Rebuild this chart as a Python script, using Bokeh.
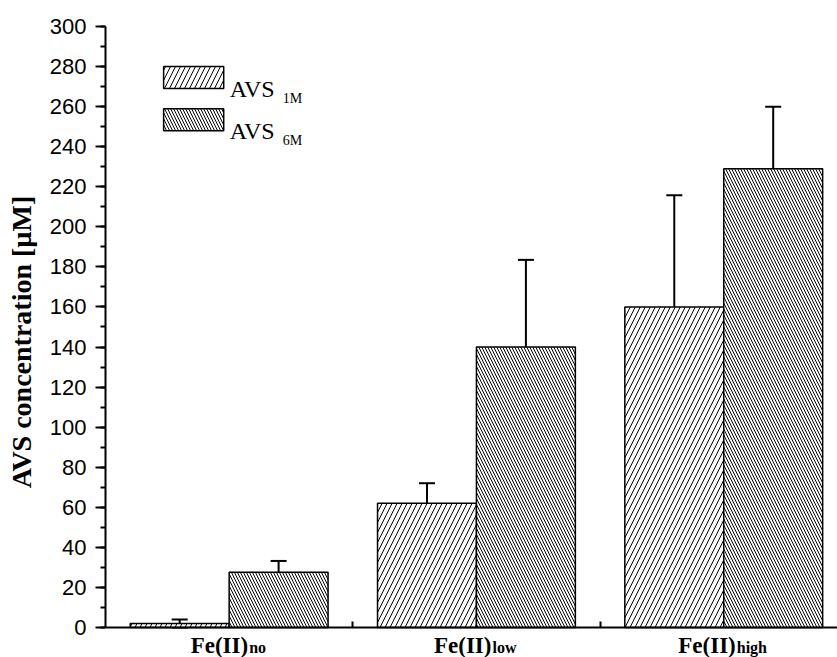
from bokeh.plotting import figure
from bokeh.models import (ColumnDataSource, FixedTicker, Whisker, TeeHead,
                          BoxAnnotation, Label, Range1d)
from bokeh.embed import file_html
from bokeh.resources import INLINE

# ---- data ----
group_main = ["Fe(II)", "Fe(II)", "Fe(II)"]
group_subs = ["no", "low", "high"]
series_main = ["AVS", "AVS"]
series_subs = ["1M", "6M"]
avs_1m = [2.0, 62.0, 160.0]
avs_1m_err = [2.0, 10.0, 55.7]
avs_6m = [27.5, 140.0, 229.0]
avs_6m_err = [5.7, 43.5, 31.0]
y_ticks = list(range(0, 301, 20))
y_minor = list(range(0, 301, 10))

# ---- layout helpers ----
idx = [i + 1 for i in range(len(group_main))]
bar_w = 0.4
x1 = [i - bar_w / 2 for i in idx]
x2 = [i + bar_w / 2 for i in idx]
sub_boundary = [19, 15, 12]  # px offset where main text ends / subscript starts

p = figure(width=837, height=657, output_backend="svg", toolbar_location=None,
           x_range=Range1d(0.5, 3.46), y_range=Range1d(-15, 300),
           min_border_left=105, min_border_right=0, min_border_top=26,
           min_border_bottom=0)
p.outline_line_color = None
p.grid.visible = False
p.background_fill_color = "white"
p.border_fill_color = "white"

# y axis
ya = p.yaxis[0]
ya.ticker = FixedTicker(ticks=y_ticks, minor_ticks=y_minor)
ya.bounds = (0, 300)
ya.major_tick_out = 10
ya.major_tick_in = 0
ya.minor_tick_out = 5
ya.minor_tick_in = 0
ya.axis_line_width = 2
ya.major_tick_line_width = 2
ya.minor_tick_line_width = 2
ya.axis_line_color = "black"
ya.major_tick_line_color = "black"
ya.minor_tick_line_color = "black"
ya.major_label_text_font = "Liberation Sans"
ya.major_label_text_font_size = "22px"
ya.major_label_text_color = "black"
ya.major_label_standoff = 9
ya.axis_label = "AVS concentration [µM]"
ya.axis_label_text_font = "Liberation Serif"
ya.axis_label_text_font_style = "bold"
ya.axis_label_text_font_size = "28px"
ya.axis_label_text_color = "black"
ya.axis_label_standoff = 10

# x axis, drawn at y = 0
xa = p.xaxis[0]
xa.fixed_location = 0
xa.ticker = FixedTicker(ticks=[1.5, 2.5], minor_ticks=[])
xa.major_tick_in = 6
xa.major_tick_out = 0
xa.major_tick_line_width = 2
xa.axis_line_width = 2
xa.axis_line_color = "black"
xa.major_tick_line_color = "black"
xa.major_label_text_font_size = "1px"
xa.major_label_text_color = None
xa.major_label_standoff = 0

# bars
p.vbar(x=x1, top=avs_1m, bottom=0, width=bar_w, fill_color="white",
       line_color="black", line_width=1.5, hatch_pattern="/", hatch_scale=10,
       hatch_color="black", hatch_weight=1)
p.vbar(x=x2, top=avs_6m, bottom=0, width=bar_w, fill_color="white",
       line_color="black", line_width=1.5, hatch_pattern="\\", hatch_scale=6,
       hatch_color="black", hatch_weight=1)

# error bars
xs = x1 + x2
vals = avs_1m + avs_6m
errs = avs_1m_err + avs_6m_err
err_src = ColumnDataSource(dict(x=xs,
                                upper=[v + e for v, e in zip(vals, errs)],
                                lower=[v - e for v, e in zip(vals, errs)]))
p.add_layout(Whisker(source=err_src, base="x", upper="upper", lower="lower",
                     line_width=2, line_color="black",
                     upper_head=TeeHead(size=16, line_width=2, line_color="black"),
                     lower_head=TeeHead(size=16, line_width=2, line_color="black")))

# category labels with subscripts
for i, c in enumerate(idx):
    p.add_layout(Label(x=c, y=0, x_offset=sub_boundary[i], y_offset=-18,
                       text=group_main[i], text_font="Liberation Serif",
                       text_font_style="bold", text_font_size="23px",
                       text_align="right", text_baseline="alphabetic",
                       text_color="black"))
    p.add_layout(Label(x=c, y=0, x_offset=sub_boundary[i] + 1, y_offset=-20,
                       text=group_subs[i], text_font="Liberation Serif",
                       text_font_style="bold", text_font_size="16px",
                       text_align="left", text_baseline="alphabetic",
                       text_color="black"))

# legend
leg_left, leg_right = 0.735, 0.978
leg_rows = [(280.0, 269.0), (259.0, 248.0)]
leg_hatch = [("/", 10), ("\\", 6)]
for k, (top, bot) in enumerate(leg_rows):
    p.add_layout(BoxAnnotation(left=leg_left, right=leg_right, top=top, bottom=bot,
                               fill_color="white", fill_alpha=1,
                               line_color="black", line_alpha=1, line_width=1.5,
                               hatch_pattern=leg_hatch[k][0], hatch_scale=leg_hatch[k][1],
                               hatch_color="black", hatch_weight=1, hatch_alpha=1))
    p.add_layout(Label(x=leg_right, y=bot, x_offset=6, y_offset=0,
                       text=series_main[k], text_font="Liberation Serif",
                       text_font_size="24px", text_align="left",
                       text_baseline="alphabetic", text_color="black"))
    p.add_layout(Label(x=leg_right, y=bot, x_offset=59, y_offset=-10,
                       text=series_subs[k], text_font="Liberation Serif",
                       text_font_size="14px", text_align="left",
                       text_baseline="alphabetic", text_color="black"))

open("out.html", "w").write(file_html(p, INLINE))
